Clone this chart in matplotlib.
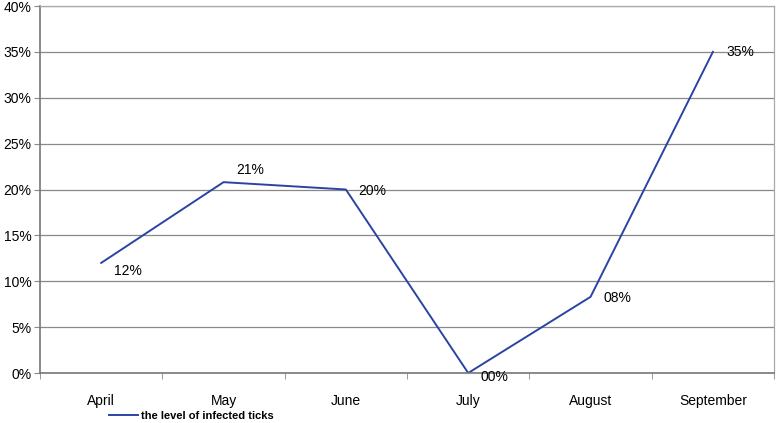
import matplotlib.pyplot as plt
from matplotlib.ticker import FuncFormatter, FixedLocator

plt.rcParams['font.family'] = ['Liberation Sans', 'DejaVu Sans']

months = ["April", "May", "June", "July", "August", "September"]
infected = [12.0, 20.8, 20.0, 0.0, 8.3, 35.0]
point_labels = ["12%", "21%", "20%", "00%", "08%", "35%"]
series_name = "the level of infected ticks"

# label offsets in points (dx, dy)
label_offsets = [(9, -6), (9, 9), (9, -1), (9, -3), (9, -1), (10, 0)]

fig = plt.figure(figsize=(7.77, 4.23), dpi=100)
ax = fig.add_axes([0.0515, 0.1182, 0.9447, 0.8676])

x = list(range(len(months)))
line, = ax.plot(x, infected, color='#2b44a3', lw=1.4)

for xi, yi, lab, off in zip(x, infected, point_labels, label_offsets):
    ax.annotate(lab, (xi, yi), xytext=off, textcoords='offset points',
                ha='left', va='center', fontsize=10, color='black')

ax.set_xlim(-0.5, len(months) - 0.5)
ax.set_ylim(0, 40)
ax.set_yticks(range(0, 41, 5))
ax.yaxis.set_major_formatter(FuncFormatter(lambda v, p: f"{int(v)}%"))
ax.set_xticks(x)
ax.set_xticklabels(months)
ax.xaxis.set_minor_locator(FixedLocator([i - 0.5 for i in range(len(months) + 1)]))
ax.tick_params(axis='x', which='major', length=0, pad=15, labelsize=10)
ax.tick_params(axis='x', which='minor', length=4, color='#888888')
ax.tick_params(axis='y', length=4, color='#888888', labelsize=10, pad=2)

ax.grid(axis='y', color='#888888', lw=0.9)
ax.set_axisbelow(True)
for side in ['top', 'right']:
    ax.spines[side].set_color('#aaaaaa')
    ax.spines[side].set_linewidth(0.9)
for side in ['left', 'bottom']:
    ax.spines[side].set_color('#777777')
    ax.spines[side].set_linewidth(1.2)

fig.legend([line], [series_name], loc='lower left', bbox_to_anchor=(0.127, -0.018),
           frameon=False, handlelength=2.6, handletextpad=0.35,
           prop={'weight': 'bold', 'size': 8})

fig.savefig("out.png", dpi=100)
